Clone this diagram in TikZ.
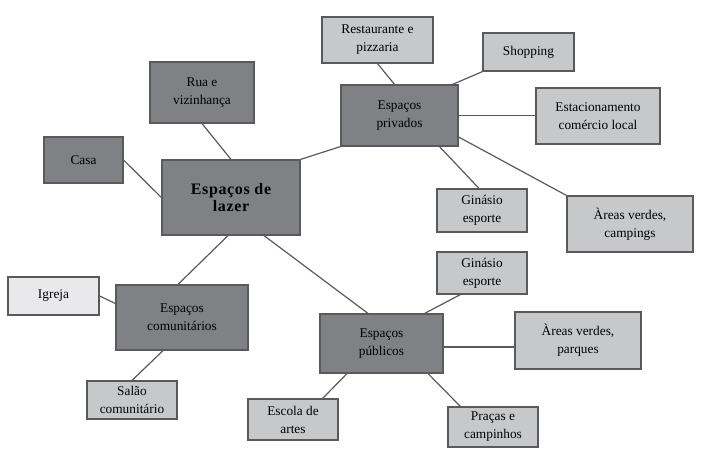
\documentclass[tikz,border=0pt]{standalone}
\usepackage{fontspec}
\setmainfont{Liberation Serif}
\newfontfamily\lazerfont[LetterSpace=4]{Liberation Serif}
\definecolor{escuro}{RGB}{128,129,133}
\definecolor{claro}{RGB}{199,200,202}
\definecolor{clarissimo}{RGB}{233,233,235}
\definecolor{borda}{RGB}{90,90,92}
\tikzset{
  sz/.style 2 args = {minimum width=#1*0.75pt, minimum height=#2*0.75pt}
}
\begin{document}
\begin{tikzpicture}[x=0.75pt, y=-0.75pt, line width=0.9pt,
    caixa/.style = {draw=borda, rectangle, align=center, inner sep=2pt, font=\fontsize{10}{13.5}\selectfont},
    grupo/.style = {caixa, fill=escuro},
    item/.style = {caixa, fill=claro},
    liga/.style = {draw=borda}]
  \useasboundingbox (0,0) rectangle (705,452);

  % centro
  \node[grupo, sz={138}{75}, font=\lazerfont\fontsize{12}{13}\selectfont\bfseries] (lazer) at (231,197.5) {Espaços de\\lazer};
  \node[grupo, sz={104}{61}] (rua) at (202,92.5) {Rua e\\vizinhança};
  \node[grupo, sz={79}{46}] (casa) at (83.5,160) {Casa};

  % espacos privados
  \node[grupo, sz={117}{61}] (privados) at (399.5,115.5) {Espaços\\privados};
  \node[item, sz={111}{46}] (restaurante) at (377.5,40) {Restaurante e\\pizzaria};
  \node[item, sz={91}{38}] (shopping) at (528.5,52) {Shopping};
  \node[item, sz={124}{56}] (estac) at (598,116) {Estacionamento\\comércio local};
  \node[item, sz={90}{43}] (ginasio1) at (482,210.5) {Ginásio\\esporte};
  \node[item, sz={126}{56}] (campings) at (630,224) {Àreas verdes,\\campings};

  % espacos comunitarios
  \node[grupo, sz={132}{65}] (comunit) at (182,317.5) {Espaços\\comunitários};
  \node[caixa, fill=clarissimo, sz={91}{38}] (igreja) at (53.5,296) {Igreja};
  \node[item, sz={90}{38}] (salao) at (132,400) {Salão\\comunitário};

  % espacos publicos
  \node[grupo, sz={123}{59}] (publicos) at (381.5,343.5) {Espaços\\públicos};
  \node[item, sz={90}{42}] (ginasio2) at (482,273) {Ginásio\\esporte};
  \node[item, sz={126}{57}] (parques) at (578,340.5) {Àreas verdes,\\parques};
  \node[item, sz={90}{41}] (escola) at (293,419.5) {Escola de\\artes};
  \node[item, sz={90}{40}] (pracas) at (493,427) {Praças e\\campinhos};

  \draw[liga] (rua.south) -- (lazer.north);
  \draw[liga] (casa.east) -- (lazer.west);
  \draw[liga] (lazer.north east) -- (privados.south west);
  \draw[liga] ([shift={(-3,0)}]lazer.south) -- ([shift={(-4,0)}]comunit.north);
  \draw[liga] ([shift={(33,0)}]lazer.south) -- ([shift={(-13.5,0)}]publicos.north);

  \draw[liga] (restaurante.south) -- ([shift={(-5,0)}]privados.north);
  \draw[liga] (shopping.south west) -- ([shift={(-6,0)}]privados.north east);
  \draw[liga] (privados.east) -- (privados.east -| estac.west);
  \draw[liga] ([shift={(40,0)}]privados.south) -- ([shift={(-3,0)}]ginasio1.north);
  \draw[liga] ([shift={(0,21.5)}]privados.east) -- (campings.north west);

  \draw[liga] (igreja.east) -- ([shift={(0,-14)}]comunit.west);
  \draw[liga] ([shift={(-19,0)}]comunit.south) -- (salao.north);

  \draw[liga] ([shift={(-19,0)}]publicos.north east) -- ([shift={(24,0)}]ginasio2.south west);
  \draw[liga] ([shift={(0,3.5)}]publicos.east) -- ([shift={(0,3.5)}]publicos.east -| parques.west);
  \draw[liga] ([shift={(-34.5,0)}]publicos.south) -- ([shift={(-16,0)}]escola.north east);
  \draw[liga] ([shift={(46.5,0)}]publicos.south) -- ([shift={(13,0)}]pracas.north west);
\end{tikzpicture}
\end{document}
